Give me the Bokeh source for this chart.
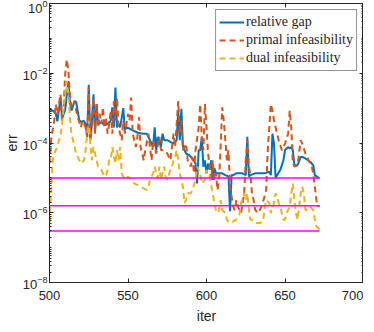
from bokeh.plotting import figure
from bokeh.models import (FixedTicker, LogAxis, LinearAxis, Legend, LegendItem,
                          CustomJSTickFormatter)
from bokeh.embed import file_html
from bokeh.resources import INLINE

x_ticks = [500, 550, 600, 650, 700]
y_ticks = [1e-8, 1e-6, 1e-4, 1e-2, 1e0]

gap_iter = [500, 502, 504, 505, 507, 508, 510, 512, 513, 514,
            516, 517, 519, 520, 522, 523, 524, 525, 526, 527,
            528, 529, 530, 531, 533, 535, 537, 539, 540, 541,
            542, 543, 544, 545, 547, 548, 549, 551, 553, 556,
            558, 560, 562, 564, 566, 567, 568, 569, 571, 572,
            573, 575, 577, 579, 581, 582, 583, 584, 585, 587,
            589, 591, 593, 594, 595, 596, 597, 598, 599, 600,
            601, 602, 603, 604, 605, 606, 608, 610, 612, 614,
            615, 616, 617, 619, 621, 623, 625, 626, 627, 628,
            631, 634, 637, 640, 641, 642, 643, 644, 645, 647,
            649, 650, 652, 653, 654, 655, 656, 658, 660, 661,
            663, 666, 668, 669, 671, 672]
gap_err = [9.0e-4, 8.5e-4, 7.0e-4, 4.2e-4, 2.0e-3, 5.0e-4, 9.0e-4, 6.0e-3, 1.5e-3, 8.5e-4,
           1.6e-3, 1.5e-3, 4.4e-4, 4.1e-4, 4.3e-4, 3.5e-4, 1.5e-4, 4.7e-3, 1.2e-4, 3.5e-4,
           2.5e-3, 2.0e-4, 1.3e-3, 3.5e-4, 4.0e-4, 3.2e-4, 3.5e-4, 4.4e-4, 1.05e-3, 2.8e-4,
           3.9e-3, 2.8e-4, 3.5e-4, 2.8e-4, 1.0e-3, 2.3e-4, 2.8e-4, 2.6e-4, 2.3e-4, 2.0e-4,
           1.9e-4, 1.85e-4, 1.85e-4, 1.2e-4, 7.7e-5, 2.8e-4, 6.0e-5, 1.5e-4, 7.7e-5, 1.85e-4,
           1.2e-4, 1.2e-4, 1.07e-4, 9.6e-5, 1.2e-4, 8.5e-4, 1.2e-4, 9.5e-4, 7.7e-5, 5.0e-5,
           4.5e-5, 3.6e-5, 2.6e-5, 6.9e-6, 6.2e-5, 6.2e-5, 1.5e-4, 2.1e-5, 3.2e-5, 1.35e-5,
           2.6e-5, 1.7e-5, 3.2e-5, 8.7e-6, 1.9e-5, 1.35e-5, 1.35e-5, 1.35e-5, 1.2e-5, 1.1e-5,
           1.1e-6, 1.2e-5, 1.2e-5, 1.35e-5, 1.35e-5, 1.35e-5, 1.2e-5, 1.5e-4, 1.1e-5, 1.2e-5,
           1.35e-5, 1.35e-5, 1.35e-5, 1.5e-5, 1.2e-5, 1.85e-4, 9.6e-5, 9.7e-6, 1.2e-5, 1.7e-5,
           3.2e-5, 6.2e-5, 7.7e-5, 6.9e-5, 7.7e-5, 6.2e-5, 2.3e-5, 2.3e-5, 4.0e-5, 4.0e-5,
           3.6e-5, 2.9e-5, 2.3e-5, 1.2e-5, 1.03e-5, 9.7e-6]

pri_iter = [500, 501, 503, 504, 505, 507, 508, 509, 510, 511,
            512, 513, 514, 516, 517, 518, 520, 521, 523, 524,
            525, 526, 527, 528, 529, 530, 531, 532, 533, 534,
            535, 536, 537, 538, 539, 540, 541, 542, 543, 544,
            546, 547, 548, 550, 551, 552, 553, 555, 556, 557,
            558, 560, 561, 563, 565, 566, 567, 568, 570, 571,
            573, 575, 577, 579, 580, 582, 583, 584, 585, 587,
            588, 590, 591, 592, 593, 595, 596, 597, 598, 599,
            600, 601, 602, 603, 604, 605, 606, 607, 608, 609,
            610, 611, 612, 613, 614, 615, 616, 617, 618, 619,
            620, 622, 623, 624, 625, 626, 627, 628, 629, 630,
            631, 633, 635, 637, 638, 639, 641, 642, 643, 645,
            646, 648, 650, 652, 653, 654, 655, 656, 658, 660,
            661, 663, 665, 667, 668, 669, 670, 671, 672]
pri_err = [2.6e-5, 1.2e-4, 4.4e-4, 1.3e-3, 6.8e-4, 2.5e-3, 4.4e-4, 1.05e-3, 9.3e-3, 2.5e-2,
           1.2e-2, 2.5e-3, 1.05e-3, 1.6e-3, 8.5e-4, 5.5e-4, 2.8e-4, 4.4e-4, 2.8e-4, 1.5e-4,
           3.9e-3, 1.2e-4, 4.4e-4, 2.0e-3, 1.85e-4, 1.3e-3, 2.8e-4, 6.8e-4, 3.5e-4, 1.05e-3,
           2.8e-4, 5.5e-4, 1.85e-4, 3.5e-4, 8.5e-4, 1.85e-4, 1.6e-3, 4.4e-4, 2.0e-3, 2.8e-4,
           1.2e-4, 4.4e-4, 1.85e-4, 6.8e-4, 4.4e-4, 2.0e-3, 1.85e-4, 7.7e-5, 1.5e-4, 5.5e-4,
           7.7e-5, 3.2e-5, 6.2e-5, 1.85e-4, 3.2e-5, 1.2e-4, 7.7e-5, 5.0e-5, 1.5e-4, 6.2e-5,
           6.2e-5, 5.0e-5, 3.2e-5, 1.85e-4, 7.7e-5, 1.6e-3, 1.85e-4, 4.4e-4, 6.2e-5, 9.6e-5,
           3.2e-5, 2.1e-5, 4.0e-5, 1.35e-5, 6.2e-5, 2.8e-4, 1.3e-3, 1.5e-4, 6.2e-5, 1.3e-3,
           2.8e-4, 5.0e-5, 2.1e-5, 8.7e-6, 3.2e-5, 8.7e-6, 1.35e-5, 4.5e-6, 8.7e-6, 7.7e-5,
           1.05e-3, 4.4e-4, 1.2e-4, 3.2e-5, 6.2e-5, 5.6e-6, 2.9e-6, 1.5e-6, 1.2e-6, 2.3e-6,
           1.5e-6, 9.8e-7, 1.9e-6, 3.6e-6, 3.2e-5, 1.2e-4, 2.1e-5, 1.2e-5, 3.6e-6, 2.3e-6,
           1.2e-6, 9.8e-7, 1.5e-6, 2.9e-6, 4.5e-6, 6.2e-5, 1.3e-3, 8.5e-4, 4.4e-4, 1.85e-4,
           1.2e-4, 6.2e-5, 9.6e-5, 1.85e-4, 8.5e-4, 2.8e-4, 2.6e-5, 2.1e-5, 2.3e-5, 1.2e-4,
           9.6e-5, 5.0e-5, 3.2e-5, 2.1e-5, 1.35e-5, 5.6e-6, 2.3e-6, 1.5e-6, 1.6e-6]

dua_iter = [500, 501, 502, 503, 505, 506, 507, 508, 509, 510,
            511, 512, 513, 514, 515, 516, 517, 519, 520, 522,
            523, 524, 525, 526, 527, 528, 529, 530, 531, 533,
            535, 536, 537, 538, 539, 540, 541, 542, 543, 544,
            545, 546, 548, 550, 552, 554, 556, 558, 560, 562,
            563, 564, 566, 567, 568, 569, 570, 571, 572, 573,
            574, 575, 576, 577, 578, 579, 580, 581, 582, 583,
            585, 586, 587, 588, 590, 591, 593, 594, 596, 597,
            599, 600, 602, 604, 605, 606, 607, 608, 609, 610,
            612, 613, 615, 617, 619, 621, 622, 624, 625, 626,
            627, 628, 630, 632, 634, 636, 637, 638, 640, 641,
            643, 644, 645, 646, 647, 649, 650, 651, 652, 653,
            654, 655, 656, 657, 658, 659, 660, 661, 662, 663,
            664, 666, 668, 669, 670, 672]
dua_err = [5.1e-7, 3.6e-6, 3.2e-5, 5.0e-5, 7.7e-5, 1.2e-4, 1.5e-4, 3.5e-4, 1.05e-3, 2.5e-3,
           6.0e-3, 2.5e-3, 5.5e-4, 1.85e-4, 1.2e-4, 7.7e-5, 5.0e-5, 3.2e-5, 2.6e-5, 3.2e-5,
           6.2e-5, 1.85e-4, 4.4e-4, 9.6e-5, 3.2e-5, 7.7e-5, 5.0e-5, 3.2e-5, 2.1e-5, 1.7e-5,
           1.08e-5, 1.2e-5, 1.7e-5, 3.2e-5, 3.2e-5, 7.7e-5, 4.0e-5, 2.6e-5, 6.2e-5, 3.2e-5,
           7.7e-5, 1.35e-5, 8.7e-6, 1.08e-5, 8.7e-6, 6.9e-6, 6.3e-6, 5.6e-6, 5.0e-6, 4.5e-6,
           5.6e-6, 8.7e-6, 1.35e-5, 2.1e-5, 1.35e-5, 9.7e-6, 2.1e-5, 8.7e-6, 1.35e-5, 2.1e-5,
           1.08e-5, 8.7e-6, 1.2e-5, 1.7e-5, 2.1e-5, 3.2e-5, 4.0e-5, 6.2e-5, 3.2e-5, 1.35e-5,
           5.6e-6, 1.9e-6, 2.3e-6, 3.6e-6, 3.6e-6, 4.5e-6, 8.7e-6, 2.1e-5, 1.35e-5, 6.9e-6,
           8.7e-6, 1.7e-5, 1.08e-5, 3.6e-6, 1.9e-6, 1.2e-6, 9.8e-7, 1.2e-6, 2.3e-6, 1.2e-6,
           9.8e-7, 6.3e-7, 5.1e-7, 5.7e-7, 6.3e-7, 8.8e-7, 1.9e-6, 3.6e-6, 2.3e-6, 3.6e-6,
           1.2e-6, 6.3e-7, 6.3e-7, 5.1e-7, 5.1e-7, 5.7e-7, 1.2e-6, 2.3e-6, 1.9e-6, 9.8e-7,
           1.9e-6, 3.6e-6, 2.9e-6, 1.9e-6, 1.5e-6, 6.3e-7, 6.3e-7, 9.8e-7, 1.2e-6, 1.5e-6,
           3.6e-6, 6.9e-6, 2.3e-6, 9.8e-7, 6.3e-7, 1.5e-6, 3.6e-6, 5.6e-6, 3.6e-6, 1.2e-6,
           1.2e-6, 1.5e-6, 1.2e-6, 6.3e-7, 4.1e-7, 3.3e-7]

tol_levels = [1e-5, 1.6e-6, 3e-7]

BLUE, ORANGE, YELLOW, MAGENTA = "#0072BD", "#D95319", "#EDB120", "#FF00FF"
AX = "#262626"

p = figure(frame_width=314, frame_height=279, x_range=(500, 700), y_range=(1e-8, 1),
           y_axis_type="log", output_backend="svg", toolbar_location=None,
           min_border_left=0, min_border_right=0, min_border_top=3,
           min_border_bottom=0, background_fill_color="white",
           border_fill_color="white")
p.grid.visible = False
p.outline_line_color = AX
p.outline_line_width = 1

minor = [k * 10.0 ** e for e in range(-8, 0) for k in range(2, 10)] + [10.0 ** e for e in range(-7, 0, 2)]
yt = FixedTicker(ticks=y_ticks, minor_ticks=minor)
xt = FixedTicker(ticks=x_ticks, minor_ticks=[])

for ax in (p.xaxis[0], p.yaxis[0]):
    ax.axis_line_color = AX
    ax.major_tick_line_color = AX
    ax.minor_tick_line_color = AX
    ax.major_tick_in = 4
    ax.major_tick_out = 0
    ax.minor_tick_in = 2
    ax.minor_tick_out = 0
    ax.major_label_text_font = "Liberation Sans"
    ax.major_label_text_font_size = "13px"
    ax.major_label_text_color = AX
    ax.axis_label_text_font = "Liberation Sans"
    ax.axis_label_text_font_size = "14px"
    ax.axis_label_text_font_style = "normal"
    ax.axis_label_text_color = AX
p.xaxis[0].ticker = xt
p.yaxis[0].ticker = yt
p.xaxis[0].axis_label = "iter"
p.yaxis[0].axis_label = "err"
p.xaxis[0].major_label_standoff = 8
p.xaxis[0].axis_label_standoff = 5
p.yaxis[0].major_label_standoff = 2
p.yaxis[0].axis_label_standoff = 0

blank = CustomJSTickFormatter(code="return ''")
top = LinearAxis(ticker=xt, formatter=blank, major_tick_in=4, major_tick_out=0,
                 major_label_standoff=0, major_label_text_font_size="1px",
                 axis_line_color=AX, major_tick_line_color=AX)
right = LogAxis(ticker=yt, formatter=blank, major_tick_in=4, major_tick_out=0,
                minor_tick_in=2, minor_tick_out=0, major_label_standoff=0,
                major_label_text_font_size="1px",
                axis_line_color=AX, major_tick_line_color=AX, minor_tick_line_color=AX)
p.add_layout(top, "above")
p.add_layout(right, "right")

r_gap = p.line(gap_iter, gap_err, line_color=BLUE, line_width=2)
r_pri = p.line(pri_iter, pri_err, line_color=ORANGE, line_width=2, line_dash="6 4")
r_dua = p.line(dua_iter, dua_err, line_color=YELLOW, line_width=2, line_dash="6 4")
x_start, x_end = min(gap_iter), max(gap_iter)
p.segment(x0=[x_start] * len(tol_levels), x1=[x_end] * len(tol_levels),
          y0=tol_levels, y1=tol_levels, line_color=MAGENTA, line_width=1.5)

legend = Legend(items=[LegendItem(label="relative gap", renderers=[r_gap]),
                       LegendItem(label="primal infeasibility", renderers=[r_pri]),
                       LegendItem(label="dual infeasibility", renderers=[r_dua])],
                location="top_right", margin=6, padding=3, spacing=0,
                glyph_width=25, glyph_height=18, label_height=18, label_standoff=2,
                label_text_font="Liberation Serif", label_text_font_size="14px",
                label_text_color=AX, border_line_color=AX, border_line_width=1,
                background_fill_alpha=1.0)
p.add_layout(legend)

open("out.html", "w").write(file_html(p, INLINE))
